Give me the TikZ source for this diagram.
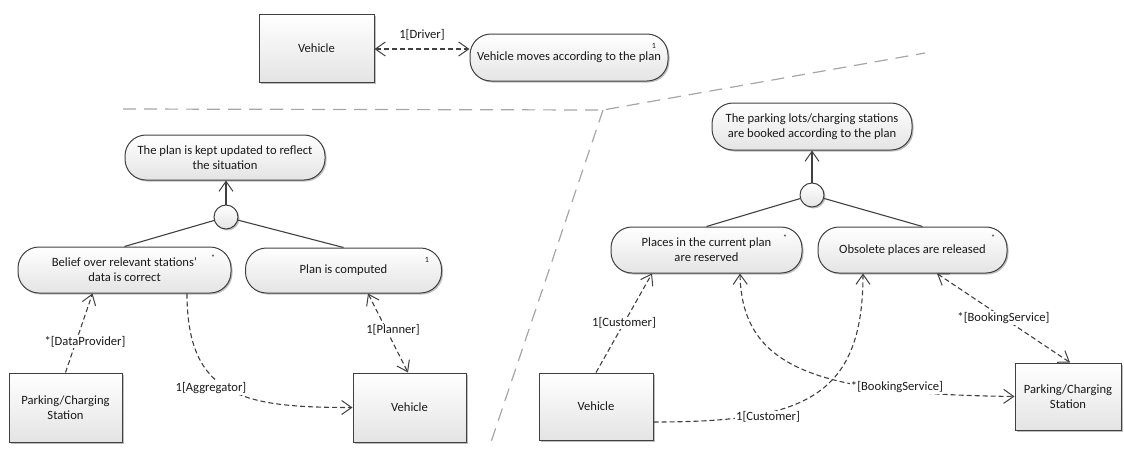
\documentclass[tikz,border=0pt]{standalone}
\usepackage{fontspec}
\setmainfont{Carlito}
\usetikzlibrary{arrows.meta,shadows,calc}

\definecolor{edge}{HTML}{404040}
\definecolor{ink}{HTML}{1A1A1A}
\definecolor{sep}{HTML}{A6A6A6}
\definecolor{shadegray}{HTML}{E4E4E4}

\tikzset{
  vbarb/.tip={Straight Barb[length=10pt, width=14pt, line width=1pt]},
  base/.style={draw=edge, line width=1pt, top color=white, bottom color=shadegray,
    text=ink, align=center, inner sep=0pt,
    drop shadow={shadow xshift=1.5pt, shadow yshift=-1.5pt, opacity=0.25, fill=black}},
  actor/.style={base, rectangle, minimum width=#1},
  goal/.style={base, rectangle, rounded corners=21pt, minimum height=46pt, minimum width=#1},
  andnode/.style={base, circle, minimum size=24pt},
  mult/.style={font=\fontsize{8}{9}\selectfont, text=ink, inner sep=0pt},
  refine/.style={draw=edge, line width=1.1pt},
  achieve/.style={refine, -vbarb},
  dep/.style={draw=edge, line width=1.1pt, dash pattern=on 5pt off 3pt},
  lbl/.style={fill=white, text=ink, inner sep=1pt},
  border/.style={draw=sep, line width=1.2pt, dash pattern=on 13pt off 8pt},
}

\begin{document}
\begin{tikzpicture}[x=1pt, y=-1pt, font=\fontsize{12.6}{15}\selectfont]
\useasboundingbox (0,0) rectangle (1124,448);

% region borders
\coordinate (bend) at (603,110);
\draw[border] (123,109) -- (bend) -- (925,53);
\draw[border] (bend) -- (489,448);

% top: driving goal
\node[actor=115pt, minimum height=68pt] (veh1) at (316.5,48) {Vehicle};
\node[goal=198pt, minimum height=47pt] (g0) at (569,57.5) {Vehicle moves according to the plan};
\node[mult] (m0) at (654,46) {1};
\draw[dep, vbarb-vbarb] ([yshift=-1pt]veh1.east) -- ([yshift=-1pt]veh1.east -| g0.west)
  node[lbl, midway, yshift=14pt] {1[Driver]};

% left: planning goal
\node[goal=200pt, minimum height=45pt] (gL) at (225,157.5) {The plan is kept updated to reflect\\the situation};
\node[andnode] (cL) at (226,217) {};
\node[goal=213pt] (bel) at (124.5,270) {Belief over relevant stations'\\data is correct};
\node[mult] (m1) at (213,258) {*};
\node[goal=196pt, minimum height=45pt] (plan) at (343.5,270.5) {Plan is computed};
\node[mult] (m2) at (427,260) {1};
\node[actor=113pt, minimum height=69pt] (pcsL) at (65.5,407.5) {Parking/Charging\\Station};
\node[actor=113pt, minimum height=69pt] (veh2) at (409.5,407.5) {Vehicle};

\draw[achieve] (cL.north) -- (cL.north |- gL.south);
\draw[refine] (cL) -- (bel.north);
\draw[refine] (cL) -- (plan.north);

\draw[dep, -vbarb] (pcsL.north) -- ([xshift=-32pt]bel.south)
  node[lbl, at={(85,342)}] {*[DataProvider]};
\draw[dep, -vbarb] ([xshift=62.5pt]bel.south) .. controls (187,398) and (245,407.5) .. (veh2.west)
  node[lbl, at={(211,388)}] {1[Aggregator]};
\draw[dep, vbarb-vbarb] ([xshift=24.5pt]plan.south) -- ([xshift=-1.5pt]veh2.north)
  node[lbl, at={(393,330)}] {1[Planner]};

% right: booking goal
\node[goal=200pt, minimum height=47pt] (gR) at (812,126.5) {The parking lots/charging stations\\are booked according to the plan};
\node[andnode] (cR) at (812,195) {};
\node[goal=191pt] (plc) at (706.5,250) {Places in the current plan\\are reserved};
\node[mult] (m3) at (785,238) {*};
\node[goal=189pt] (obs) at (912.5,250) {Obsolete places are released};
\node[mult] (m4) at (993,238) {*};
\node[actor=114pt, minimum height=67pt] (veh3) at (596,406.5) {Vehicle};
\node[actor=106pt, minimum height=67pt] (pcsR) at (1068,396.5) {Parking/Charging\\Station};

\draw[achieve] (cR.north) -- (cR.north |- gR.south);
\draw[refine] (cR) -- (plc.north);
\draw[refine] (cR) -- ([xshift=10pt]obs.north);

\draw[dep, -vbarb] (veh3.north) -- ([xshift=-54.5pt]plc.south)
  node[lbl, midway] {1[Customer]};
\draw[dep, vbarb-vbarb] ([xshift=33.5pt]plc.south) .. controls (742,370) and (820,394) .. (pcsR.west)
  node[lbl, at={(897,387)}] {*[BookingService]};
\draw[dep, -vbarb] ([yshift=-15.5pt]veh3.east) .. controls (800,422) and (863,400) .. ([xshift=-49.5pt]obs.south)
  node[lbl, at={(768,417)}] {1[Customer]};
\draw[dep, vbarb-vbarb] ([xshift=24.5pt]obs.south) -- ([xshift=2pt]pcsR.north)
  node[lbl, midway] {*[BookingService]};
\end{tikzpicture}
\end{document}
